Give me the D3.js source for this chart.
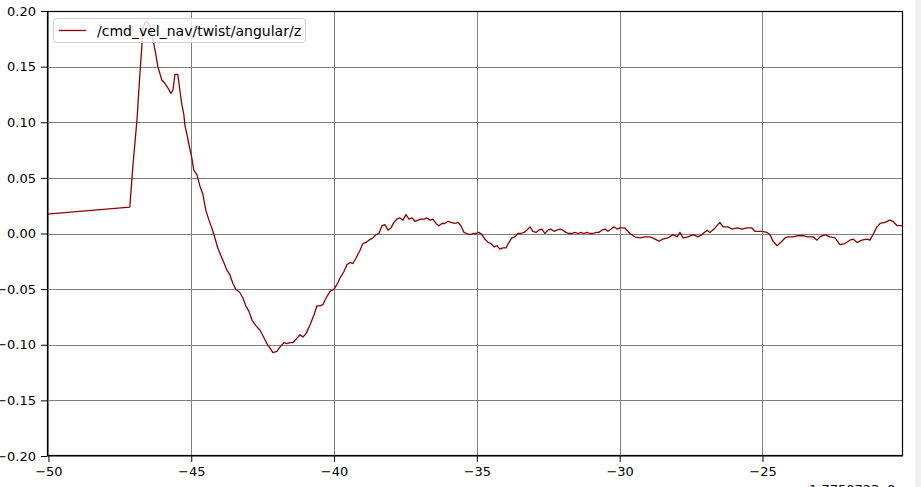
<!DOCTYPE html>
<html><head><meta charset="utf-8">
<script src="https://cdn.jsdelivr.net/npm/d3@7"></script>
<style>
html,body{margin:0;padding:0;background:#fff;overflow:hidden;}
svg{display:block;font-family:"DejaVu Sans",sans-serif;}
</style></head>
<body>
<script>
const seriesName = "/cmd_vel_nav/twist/angular/z";
const offsetLabel = "1.7750723e9";
const xTicks = [-50, -45, -40, -35, -30, -25];
const yTicks = [-0.20, -0.15, -0.10, -0.05, 0.00, 0.05, 0.10, 0.15, 0.20];
const times = [
-50.05,-47.15,-47.04,-46.90,-46.80,-46.69,-46.62,-46.52,-46.45,-46.34,
-46.24,-46.17,-46.03,-45.92,-45.82,-45.71,-45.64,-45.57,-45.47,-45.40,
-45.33,-45.26,-45.22,-45.15,-45.08,-44.98,-44.91,-44.80,-44.70,-44.59,
-44.49,-44.38,-44.28,-44.17,-44.07,-43.96,-43.86,-43.75,-43.65,-43.54,
-43.44,-43.30,-43.19,-43.09,-42.98,-42.87,-42.73,-42.59,-42.45,-42.35,
-42.24,-42.14,-42.00,-41.89,-41.75,-41.65,-41.54,-41.44,-41.33,-41.19,
-41.09,-40.98,-40.84,-40.70,-40.60,-40.49,-40.39,-40.28,-40.14,-40.00,
-39.90,-39.79,-39.65,-39.55,-39.44,-39.34,-39.23,-39.09,-38.99,-38.88,
-38.78,-38.64,-38.53,-38.43,-38.32,-38.22,-38.11,-38.01,-37.90,-37.80,
-37.69,-37.59,-37.48,-37.38,-37.27,-37.17,-37.06,-36.96,-36.85,-36.75,
-36.64,-36.54,-36.43,-36.33,-36.22,-36.12,-36.01,-35.91,-35.77,-35.66,
-35.56,-35.45,-35.35,-35.24,-35.14,-35.03,-34.93,-34.82,-34.72,-34.61,
-34.51,-34.40,-34.30,-34.19,-34.09,-33.98,-33.88,-33.77,-33.67,-33.56,
-33.46,-33.35,-33.25,-33.14,-33.04,-32.93,-32.83,-32.72,-32.62,-32.51,
-32.41,-32.30,-32.20,-32.09,-31.99,-31.88,-31.78,-31.67,-31.57,-31.46,
-31.36,-31.25,-31.15,-31.04,-30.94,-30.83,-30.73,-30.62,-30.51,-30.41,
-30.30,-30.20,-30.09,-29.99,-29.82,-29.64,-29.47,-29.29,-29.12,-28.94,
-28.76,-28.62,-28.49,-28.31,-28.13,-27.99,-27.89,-27.78,-27.61,-27.43,
-27.26,-27.12,-26.94,-26.84,-26.66,-26.49,-26.38,-26.21,-26.07,-25.89,
-25.72,-25.54,-25.37,-25.26,-25.16,-25.02,-24.84,-24.74,-24.63,-24.49,
-24.32,-24.21,-24.11,-23.93,-23.76,-23.58,-23.41,-23.23,-23.09,-22.99,
-22.81,-22.64,-22.46,-22.29,-22.11,-21.94,-21.83,-21.69,-21.52,-21.34,
-21.24,-21.13,-20.99,-20.88,-20.71,-20.54,-20.43,-20.29,-20.18,-20.08,
-20.00
];
const values = [
0.0175,0.0238,0.0616,0.1021,0.1425,0.183,0.190,0.190,0.187,0.174,
0.161,0.150,0.138,0.135,0.131,0.126,0.129,0.143,0.143,0.129,
0.116,0.107,0.097,0.089,0.080,0.068,0.057,0.053,0.043,0.035,
0.021,0.012,0.005,-0.004,-0.013,-0.020,-0.026,-0.033,-0.037,-0.045,
-0.050,-0.053,-0.058,-0.065,-0.070,-0.078,-0.083,-0.087,-0.094,-0.099,
-0.103,-0.107,-0.106,-0.102,-0.098,-0.099,-0.098,-0.098,-0.095,-0.091,
-0.093,-0.090,-0.082,-0.073,-0.065,-0.065,-0.064,-0.058,-0.052,-0.050,
-0.046,-0.040,-0.034,-0.028,-0.026,-0.027,-0.022,-0.015,-0.009,-0.008,
-0.006,-0.004,-0.001,0.000,0.007,0.008,0.003,0.005,0.010,0.013,
0.014,0.012,0.017,0.013,0.014,0.011,0.012,0.013,0.013,0.014,
0.012,0.013,0.009,0.007,0.009,0.009,0.011,0.010,0.009,0.010,
0.007,0.001,0.000,-0.001,0.000,0.000,0.001,-0.001,-0.005,-0.008,
-0.009,-0.012,-0.011,-0.014,-0.013,-0.013,-0.008,-0.004,-0.003,0.000,
0.000,0.001,0.003,0.006,0.002,0.001,0.003,0.004,0.000,0.003,
0.004,0.002,0.003,0.004,0.003,0.001,0.000,0.000,0.001,0.000,
0.001,0.000,0.001,0.000,0.000,0.001,0.001,0.003,0.004,0.002,
0.004,0.006,0.004,0.005,0.005,0.000,-0.003,-0.004,-0.003,-0.003,
-0.005,-0.007,-0.005,-0.004,-0.001,-0.003,0.001,-0.004,-0.003,-0.001,
-0.003,-0.001,0.003,0.001,0.005,0.010,0.006,0.006,0.004,0.005,
0.004,0.005,0.005,0.002,0.002,0.002,0.001,-0.001,-0.007,-0.011,
-0.007,-0.004,-0.003,-0.003,-0.002,-0.002,-0.003,-0.003,-0.006,-0.003,
-0.001,-0.003,-0.004,-0.010,-0.009,-0.006,-0.005,-0.008,-0.006,-0.005,
-0.006,-0.001,0.006,0.009,0.010,0.012,0.011,0.007,0.007,0.007,
-0.001
];

const W = 921, H = 487;
const L = 47, R = 903, T = 11, B = 456;
const svg = d3.select("body").append("svg").attr("width", W).attr("height", H);
svg.append("rect").attr("x",0).attr("y",0).attr("width",W).attr("height",H).attr("fill","#fff");
svg.append("rect").attr("x",915).attr("y",0).attr("width",6).attr("height",H).attr("fill","#f0f0f0");

const x = d3.scaleLinear().domain([-50.05, -20.08]).range([L, R]);
const y = d3.scaleLinear().domain([-0.20, 0.20]).range([B, T]);
const fmtY = v => d3.format(".2f")(v).replace("-", "\u2212");
const fmtX = v => String(v).replace("-", "\u2212");

svg.append("defs").append("clipPath").attr("id","clip")
  .append("rect").attr("x",L).attr("y",T).attr("width",R-L).attr("height",B-T);

// grid
const grid = svg.append("g");
grid.selectAll("line.gx").data(xTicks).join("line")
  .attr("x1",d=>Math.round(x(d))+0.5).attr("x2",d=>Math.round(x(d))+0.5)
  .attr("y1",T).attr("y2",B).attr("stroke","#808080").attr("stroke-width",1);
grid.selectAll("line.gy").data(yTicks).join("line")
  .attr("y1",d=>Math.round(y(d))+0.5).attr("y2",d=>Math.round(y(d))+0.5)
  .attr("x1",L).attr("x2",R).attr("stroke","#808080").attr("stroke-width",1);

// line
const pts = times.map((t,i)=>[t, values[i]]);
svg.append("path").datum(pts).attr("clip-path","url(#clip)")
  .attr("fill","none").attr("stroke","#8b0000").attr("stroke-width",1.3)
  .attr("stroke-linejoin","round")
  .attr("d", d3.line().x(d=>x(d[0])).y(d=>y(d[1])));

// frame
svg.append("rect").attr("x",L+0.5).attr("y",T+0.5).attr("width",R-L-1).attr("height",B-T-1)
  .attr("fill","none").attr("stroke","#000").attr("stroke-width",1.2);

// axes
const xAxis = d3.axisBottom(x).tickValues(xTicks).tickFormat(fmtX).tickSize(6).tickPadding(5);
const gx = svg.append("g").attr("transform",`translate(0,${B})`).call(xAxis);
gx.select(".domain").remove();
gx.selectAll("text").attr("font-size",13).attr("fill","#000").attr("font-family","DejaVu Sans");
gx.selectAll("line").attr("stroke","#000");

const yAxis = d3.axisLeft(y).tickValues(yTicks).tickFormat(fmtY).tickSize(6).tickPadding(5);
const gy = svg.append("g").attr("transform",`translate(${L},0)`).call(yAxis);
gy.select(".domain").remove();
gy.selectAll("text").attr("font-size",13).attr("fill","#000").attr("font-family","DejaVu Sans");
gy.selectAll("line").attr("stroke","#000");

// offset text (partly below the visible area, as in the reference)
svg.append("text").attr("x",809).attr("y",494).attr("font-size",13)
  .attr("font-family","DejaVu Sans").text(offsetLabel);

// legend
const lg = svg.append("g");
lg.append("rect").attr("x",53.5).attr("y",18.5).attr("width",252).attr("height",24).attr("rx",3)
  .attr("fill","#fff").attr("fill-opacity",0.8).attr("stroke","#d0d0d0");
lg.append("line").attr("x1",59).attr("x2",86).attr("y1",30.5).attr("y2",30.5)
  .attr("stroke","#8b0000").attr("stroke-width",1.3);
lg.append("text").attr("x",97).attr("y",35.5).attr("font-size",14)
  .attr("font-family","DejaVu Sans").text(seriesName);
</script>
</body></html>
